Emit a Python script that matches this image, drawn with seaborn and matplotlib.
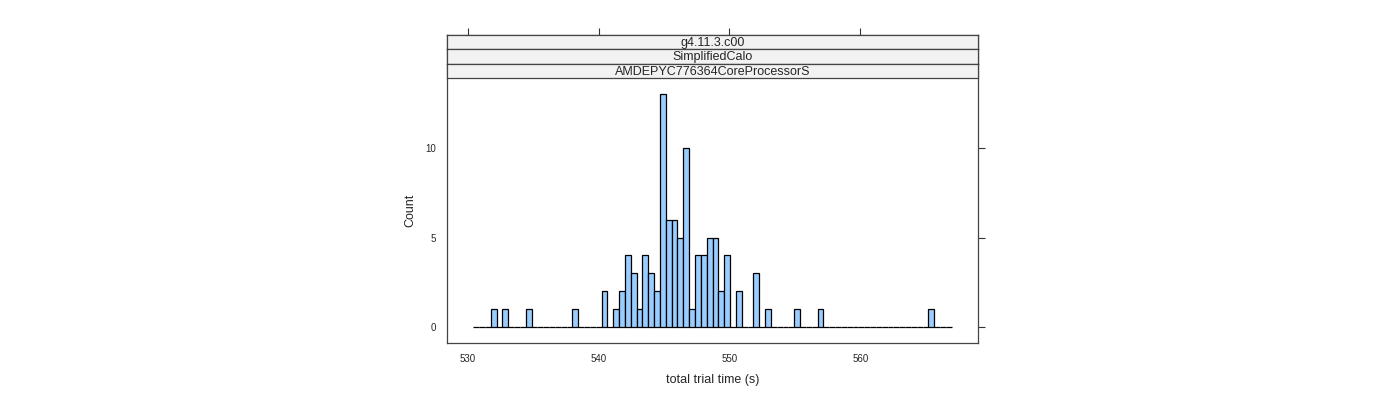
import numpy as np
import pandas as pd
import seaborn as sns
import matplotlib
matplotlib.use("Agg")
import matplotlib.pyplot as plt

# ---- data ----
bin_start = 530.42
bin_width = 0.4461
n_bins = 82
# non-empty bins: index -> count
bar_index = [3, 5, 9, 17, 22, 24, 25, 26, 27, 28, 29, 30, 31, 32, 33, 34, 35, 36,
             37, 38, 39, 40, 41, 42, 43, 45, 48, 50, 55, 59, 78]
bar_count = [1, 1, 1, 1, 2, 1, 2, 4, 3, 1, 4, 3, 2, 13, 6, 6, 5, 10,
             1, 4, 4, 5, 5, 2, 4, 2, 3, 1, 1, 1, 1]
strip_labels = ["g4.11.3.c00", "SimplifiedCalo", "AMDEPYC776364CoreProcessorS"]
x_ticks = [530, 540, 550, 560]
y_ticks = [0, 5, 10]
x_label = "total trial time (s)"
y_label = "Count"

edges = bin_start + bin_width * np.arange(n_bins + 1)
centers = (edges[:-1] + edges[1:]) / 2
counts = np.zeros(n_bins)
for i, c in zip(bar_index, bar_count):
    counts[i] = c
df = pd.DataFrame({"time": centers, "n": counts})

sns.set_style("white")
plt.rcParams["font.family"] = ["Liberation Sans", "DejaVu Sans"]

fig = plt.figure(figsize=(14, 4), dpi=100)
W, H = 1400, 400
left, right, top, bottom = 447, 978, 35, 343
plot_top = 78
ax = fig.add_axes([left / W, (H - bottom) / H, (right - left) / W, (bottom - plot_top) / H])

sns.histplot(data=df, x="time", weights="n", binwidth=bin_width,
             binrange=(float(edges[0]), float(edges[-1])), ax=ax,
             color="#99CCFF", alpha=1, edgecolor="black", linewidth=0.9, stat="count")

ax.set_xlim(528.42, 569.0)
ax.set_ylim(-0.89, 13.91)
ax.set_xticks(x_ticks)
ax.set_yticks(y_ticks)
ax.set_xticklabels([str(t) for t in x_ticks])
ax.set_yticklabels([str(t) for t in y_ticks])
ax.tick_params(axis="both", which="both", direction="out", length=5, width=0.8,
               color="#333333", labelsize=7, pad=3,
               top=True, right=True, labeltop=False, labelright=False)
ax.set_xlabel(x_label, fontsize=9, labelpad=7)
ax.set_ylabel(y_label, fontsize=9, labelpad=6)
for s in ax.spines.values():
    s.set_visible(False)

# outer frame including strips
frame = fig.add_axes([left / W, (H - bottom) / H, (right - left) / W, (bottom - top) / H])
frame.set_xticks([]); frame.set_yticks([])
frame.patch.set_visible(False)
for s in frame.spines.values():
    s.set_color("#444444"); s.set_linewidth(0.9)

# top ticks above the strips
tax = fig.add_axes([left / W, (H - bottom) / H, (right - left) / W, (bottom - top) / H])
tax.patch.set_visible(False)
tax.set_xlim(ax.get_xlim())
tax.set_xticks(x_ticks)
tax.set_yticks([])
tax.tick_params(axis="x", direction="out", length=5, width=0.8, color="#333333",
                top=True, bottom=False, labeltop=False, labelbottom=False)
for s in tax.spines.values():
    s.set_visible(False)

# strips
strip_h = (plot_top - top) / 3
for k, lab in enumerate(strip_labels):
    y0 = top + k * strip_h
    sax = fig.add_axes([left / W, (H - y0 - strip_h) / H, (right - left) / W, strip_h / H])
    sax.set_xticks([]); sax.set_yticks([])
    sax.set_facecolor("#F2F2F2")
    for s in sax.spines.values():
        s.set_color("#444444"); s.set_linewidth(0.9)
    sax.text(0.5, 0.45, lab, ha="center", va="center", fontsize=9, transform=sax.transAxes)

fig.savefig("out.png", dpi=100)
